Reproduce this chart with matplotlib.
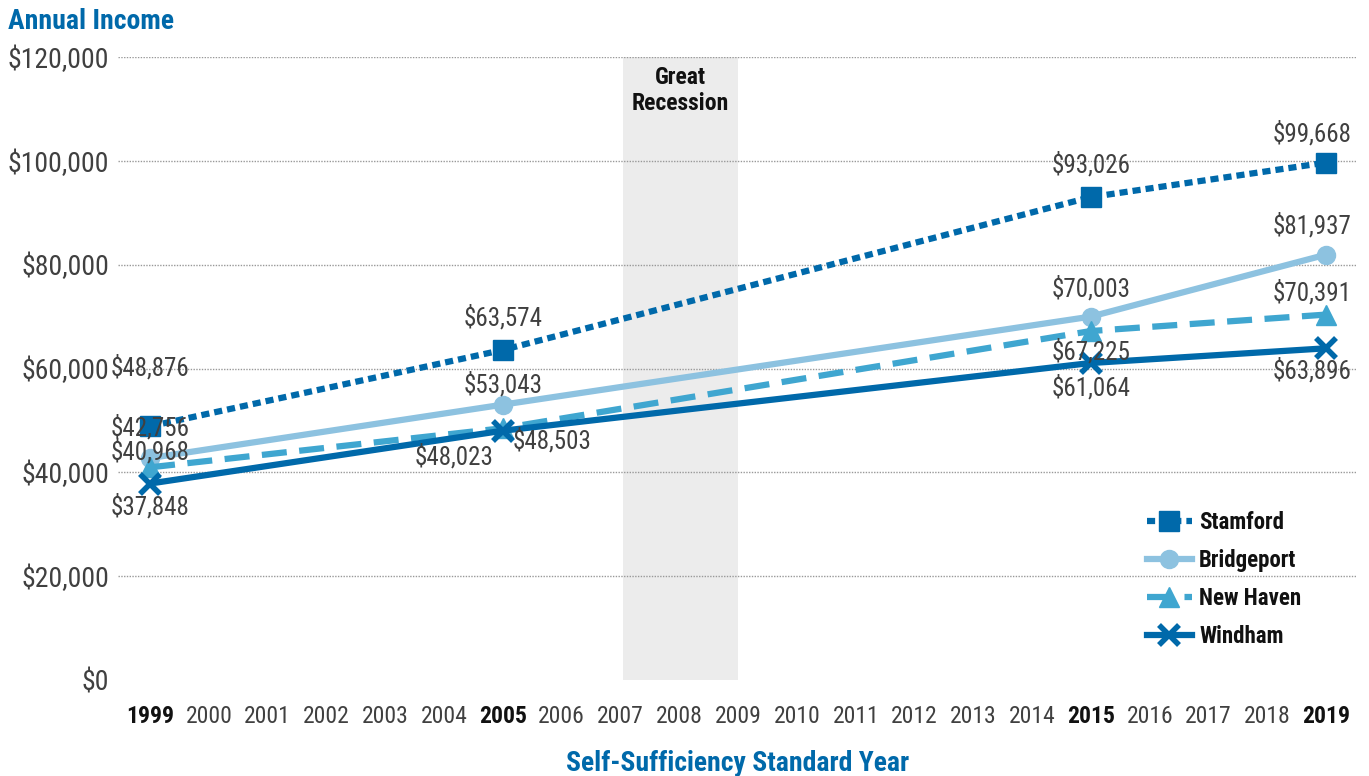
import matplotlib
matplotlib.use('Agg')
import matplotlib.pyplot as plt
from matplotlib import font_manager

years = [1999, 2005, 2015, 2019]
stamford = [48876, 63574, 93026, 99668]
bridgeport = [42756, 53043, 70003, 81937]
new_haven = [40968, 48503, 67225, 70391]
windham = [37848, 48023, 61064, 63896]
all_years = list(range(1999, 2020))
bold_years = [1999, 2005, 2015, 2019]
recession = (2007.05, 2009)

# look for a narrow font
fonts = font_manager.fontManager.ttflist
FONT = 'DejaVu Sans'
STRETCH = 'normal'
for want in ['Liberation Sans Narrow', 'Roboto Condensed', 'Open Sans Condensed', 'DejaVu Sans Condensed']:
    if any(f.name == want for f in fonts):
        FONT = want
        break
else:
    cands = [f for f in fonts if f.stretch in ('condensed', 'semi-condensed')]
    if cands:
        FONT = cands[0].name
        STRETCH = cands[0].stretch
plt.rcParams['font.family'] = [FONT, 'DejaVu Sans']
plt.rcParams['font.stretch'] = STRETCH
sc = 1.0 if (FONT != 'DejaVu Sans' or STRETCH != 'normal') else 0.86

DARK = '#0069AA'
LIGHT = '#8DC2E0'
MID = '#3FA6D0'
GREY = '#404040'

fig = plt.figure(figsize=(13.69, 7.76), dpi=100)
ax = fig.add_axes([0.086, 0.1237, 0.905, 0.8028])

ax.axvspan(recession[0], recession[1], color='#ececec', zorder=0, lw=0)
ax.text(2008.02, 118300, 'Great\nRecession', ha='center', va='top', fontsize=17 * sc,
        fontweight='bold', color='#111111', linespacing=1.15)

ax.plot(years, stamford, color=DARK, lw=4.5, ls=(0, (1.3, 0.8)), marker='s', ms=14,
        label='Stamford', zorder=3)
ax.plot(years, bridgeport, color=LIGHT, lw=4.5, marker='o', ms=13, label='Bridgeport', zorder=3)
ax.plot(years, new_haven, color=MID, lw=4.5, ls=(0, (4, 2)), marker='^', ms=15,
        label='New Haven', zorder=3)
ax.plot(years, windham, color=DARK, lw=4.5, marker='x', ms=15, mew=4, label='Windham', zorder=4)

def lab(x, y, dx, dy, ha='center'):
    ax.annotate('${:,}'.format(y), (x, y), xytext=(dx, dy), textcoords='offset points',
                ha=ha, va='center', fontsize=18 * sc, color=GREY, zorder=5)

# Stamford
lab(1999, stamford[0], 0, 42)
lab(2005, stamford[1], 0, 23)
lab(2015, stamford[2], 0, 23)
lab(2019, stamford[3], -10, 21)
# Bridgeport
lab(1999, bridgeport[0], 0, 22)
lab(2005, bridgeport[1], 0, 14)
lab(2015, bridgeport[2], 0, 20)
lab(2019, bridgeport[3], -10, 21)
# New Haven
lab(1999, new_haven[0], 0, 11)
lab(2005, new_haven[1], 7, -9, ha='left')
lab(2015, new_haven[2], 0, -15)
lab(2019, new_haven[3], -10, 16)
# Windham
lab(1999, windham[0], 0, -17)
lab(2005, windham[1], -7, -19, ha='right')
lab(2015, windham[2], 0, -18)
lab(2019, windham[3], -10, -16)

ax.set_xlim(1998.45, 2019.52)
ax.set_ylim(0, 120000)
ax.set_yticks(range(0, 120001, 20000))
ax.set_yticklabels(['${:,}'.format(v) for v in range(0, 120001, 20000)], fontsize=20 * sc, color=GREY)
ax.set_xticks(all_years)
ax.set_xticklabels([str(y) for y in all_years], fontsize=17 * sc, color=GREY)
for t, y in zip(ax.get_xticklabels(), all_years):
    if y in bold_years:
        t.set_fontweight('heavy')
        t.set_color('#111111')
ax.tick_params(length=0)
ax.tick_params(axis='x', pad=18)
ax.tick_params(axis='y', pad=6)
for y in range(20000, 120001, 20000):
    ax.axhline(y, color='#999999', lw=1, ls=(0, (1, 1)), zorder=1)
for s in ax.spines.values():
    s.set_visible(False)

ax.set_xlabel('Self-Sufficiency Standard Year', fontsize=20 * sc, fontweight='bold', color=DARK,
              labelpad=16)
fig.text(0.006, 0.972, 'Annual Income', fontsize=20 * sc, fontweight='bold', color=DARK,
         va='center', ha='left')

leg = ax.legend(loc='lower right', bbox_to_anchor=(0.972, 0.018), frameon=False, fontsize=16.5 * sc,
                handlelength=2.0, labelspacing=0.66, handletextpad=0.3)
for t in leg.get_texts():
    t.set_fontweight('bold')
    t.set_color('#111111')

fig.savefig('out.png', dpi=100)
